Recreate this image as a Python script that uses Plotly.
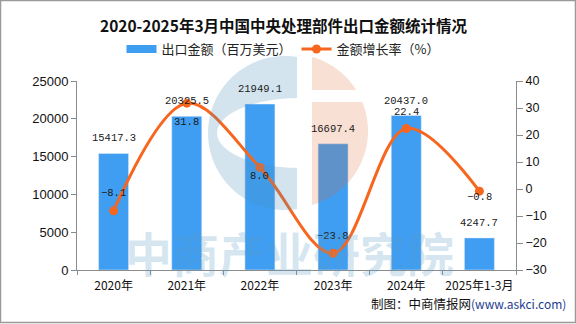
import numpy as np
import plotly.graph_objects as go

# ---------------- data ----------------
categories = ["2020年", "2021年", "2022年", "2023年", "2024年", "2025年1-3月"]
export_values = [15417.3, 20325.5, 21949.1, 16697.4, 20437.0, 4247.7]
growth_rates = [-8.1, 31.8, 8.0, -23.8, 22.4, -0.8]
left_ticks = [0, 5000, 10000, 15000, 20000, 25000]
left_tick_labels = ["0", "5000", "10000", "15000", "20000", "25000"]
right_ticks = [-30, -20, -10, 0, 10, 20, 30, 40]
right_tick_labels = ["−30", "−20", "−10", "0", "10", "20", "30", "40"]

title_text = "2020-2025年3月中国中央处理部件出口金额统计情况"
bar_name = "出口金额（百万美元）"
line_name = "金额增长率（%）"
source_text = "制图：中商情报网"
source_url = "(www.askci.com)"
watermark_text = "中商产业研究院"

# label vertical offsets (style)
rate_label_shift = [18, -19, -9, 17, 17, -6]

# ---------------- style ----------------
W, H = 576, 324
ML, MR, MT, MB = 77, 60, 81, 54
PX0, PX1, PY0, PY1 = ML, W - MR, MT, H - MB
BAR_COLOR = "#3F9EF2"
LINE_COLOR = "#F7661E"
AXIS_COLOR = "#8c8c8c"
CJK = "Noto Sans CJK SC"
MONO = "Liberation Mono"


def u(px):
    return (px - PX0) / (PX1 - PX0)


def v(py):
    return (PY1 - py) / (PY1 - PY0)


def path_from(points):
    return "M " + " L ".join(f"{u(x):.5f},{v(y):.5f}" for x, y in points) + " Z"


fig = go.Figure()

fig.add_trace(go.Bar(
    x=categories, y=export_values, name=bar_name, marker_color=BAR_COLOR,
    showlegend=False, yaxis="y", hoverinfo="skip",
))
# legend proxy for the bar series (wide rectangle swatch)
fig.add_trace(go.Scatter(
    x=[None], y=[None], mode="lines", name=bar_name,
    line=dict(color=BAR_COLOR, width=8), yaxis="y",
))
fig.add_trace(go.Scatter(
    x=categories, y=growth_rates, name=line_name, mode="lines+markers",
    line=dict(color=LINE_COLOR, width=3, shape="spline", smoothing=1.0),
    marker=dict(color=LINE_COLOR, size=9), yaxis="y2", hoverinfo="skip",
))

annotations = []
for c, val in zip(categories, export_values):
    annotations.append(dict(
        x=c, y=val, xref="x", yref="y", text=f"{val:.1f}", showarrow=False,
        yshift=15, font=dict(family=MONO, size=10.5, color="#1a1a1a"),
    ))
for c, val, sh in zip(categories, growth_rates, rate_label_shift):
    annotations.append(dict(
        x=c, y=val, xref="x", yref="y2", text=f"{val:.1f}".replace("-", "−"), showarrow=False,
        yshift=sh, font=dict(family=MONO, size=10.5, color="#1a1a1a"),
    ))

# title
annotations.append(dict(
    x=u(283.5), y=v(25), xref="paper", yref="paper", showarrow=False,
    text=f"<b>{title_text}</b>", xanchor="center", yanchor="middle",
    font=dict(family=CJK, size=15.5, color="#111111"),
))
# source
annotations.append(dict(
    x=u(568), y=v(303), xref="paper", yref="paper", showarrow=False,
    xanchor="right", yanchor="middle",
    text=f"{source_text}<span style='color:#1f3d8f;font-size:12px'>{source_url}</span>",
    font=dict(family=CJK, size=12.5, color="#111111"),
))
# watermark text
annotations.append(dict(
    x=u(289), y=v(251), xref="paper", yref="paper", showarrow=False,
    xanchor="center", yanchor="middle", text=f"<b>{watermark_text}</b>",
    font=dict(family=CJK, size=47, color="rgba(90,155,200,0.26)"),
))

# ---------- watermark logo shapes ----------
shapes = []
# blue "C"
cx, cy, r, cut = 285, 133, 77, 297
a = np.arccos((cut - cx) / r)
th = np.linspace(-a, -(2 * np.pi - a), 90)
outer = [(cx + r * np.cos(t), cy + r * np.sin(t)) for t in th]
hx, hy, rx, ry = 300, 133, 83, 35
b = np.arccos((cut - hx) / rx)
ph = np.linspace(b, 2 * np.pi - b, 60)
inner = [(hx + rx * np.cos(p), hy + ry * np.sin(p)) for p in ph]
shapes.append(dict(type="path", xref="paper", yref="paper", layer="above",
                   path=path_from(outer + inner), line=dict(width=0),
                   fillcolor="rgba(75,143,187,0.24)"))
# orange half-disc with a gap
ocx, ocy, orr, ox = 291, 131, 77, 312
ytop = ocy - np.sqrt(orr ** 2 - (ox - ocx) ** 2)
ybot = ocy + np.sqrt(orr ** 2 - (ox - ocx) ** 2)
for ya, yb in [(ytop, 90), (102, ybot)]:
    ys = np.linspace(ya, yb, 50)
    pts = [(ox, ya)] + [(ocx + np.sqrt(max(orr ** 2 - (y - ocy) ** 2, 0)), y) for y in ys] + [(ox, yb)]
    shapes.append(dict(type="path", xref="paper", yref="paper", layer="above",
                       path=path_from(pts), line=dict(width=0),
                       fillcolor="rgba(225,100,40,0.2)"))
# frame
shapes.append(dict(type="rect", xref="paper", yref="paper", layer="above",
                   x0=u(0.5), x1=u(575.5), y0=v(0.5), y1=v(322.5),
                   line=dict(color="#9a9a9a", width=1.5)))

fig.update_layout(
    width=W, height=H, autosize=False,
    margin=dict(l=ML, r=MR, t=MT, b=MB, pad=0),
    paper_bgcolor="white", plot_bgcolor="white",
    bargap=0.59,
    showlegend=True,
    legend=dict(orientation="h", x=u(283), y=v(49), xanchor="center", yanchor="middle",
                font=dict(family=CJK, size=13, color="#222222"),
                bgcolor="rgba(0,0,0,0)", itemwidth=30, tracegroupgap=0),
    xaxis=dict(type="category", showline=True, linecolor=AXIS_COLOR, linewidth=1,
               ticks="outside", tickson="boundaries", ticklen=4, tickcolor=AXIS_COLOR,
               showgrid=False, zeroline=False, tickangle=0, automargin=False,
               ticklabelstandoff=5,
               tickfont=dict(family=CJK, size=12, color="#111111")),
    yaxis=dict(range=[0, 25000], tickvals=left_ticks, ticktext=left_tick_labels,
               showline=True, linecolor=AXIS_COLOR, automargin=False,
               ticks="outside", ticklen=5, tickcolor=AXIS_COLOR, showgrid=False,
               zeroline=False, tickfont=dict(family="Liberation Sans", size=13, color="#111111")),
    yaxis2=dict(range=[-30, 40], tickvals=right_ticks, ticktext=right_tick_labels,
                overlaying="y", side="right", automargin=False,
                showline=True, linecolor=AXIS_COLOR, ticks="outside", ticklen=6,
                tickcolor=AXIS_COLOR, showgrid=False, zeroline=False,
                tickfont=dict(family="Liberation Sans", size=12.5, color="#111111")),
    annotations=annotations,
    shapes=shapes,
)

fig.write_html("out.html")
